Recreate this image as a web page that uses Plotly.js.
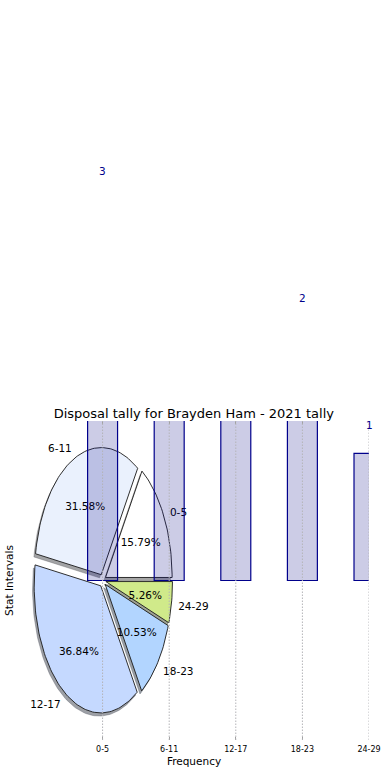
<!DOCTYPE html>
<html><head><meta charset="utf-8">
<script src="https://cdn.plot.ly/plotly-3.0.1.min.js"></script>
<style>html,body{margin:0;padding:0;background:#fff}</style>
</head><body><div id="chart" style="width:390px;height:780px"></div>
<script>
const categories = ['0-5', '6-11', '12-17', '18-23', '24-29'];
const tallies = [3, 6, 7, 2, 1];
const sliceColors = ['#ffffff', '#eaf1fd', '#c5d9ff', '#b2d5ff', '#d0ea8a'];
const explode = [0.05, 0.05, 0.05, 0.05, 0.05];
const chartTitle = 'Disposal tally for Brayden Ham - 2021 tally';
const xTitle = 'Frequency';
const yTitle = 'Stat Intervals';

const FONT = 'DejaVu Sans, Liberation Sans, sans-serif';
const TEXT_DY = -0.02; // small baseline nudge for text centring
const total = tallies.reduce((a, b) => a + b, 0);
const idx = categories.map((c, i) => i);

function shade(hex) {
  const r = parseInt(hex.slice(1, 3), 16), g = parseInt(hex.slice(3, 5), 16), b = parseInt(hex.slice(5, 7), 16);
  return 'rgba(' + Math.round(r * 0.3) + ',' + Math.round(g * 0.3) + ',' + Math.round(b * 0.3) + ',0.5)';
}

const shadowTraces = [], wedgeTraces = [];
const lblX = [], lblY = [], lblPos = [], pctX = [], pctY = [], pctText = [];
let acc = 0;
tallies.forEach((v, i) => {
  const frac = v / total;
  const a0 = acc * 2 * Math.PI, a1 = (acc + frac) * 2 * Math.PI;
  acc += frac;
  const mid = (a0 + a1) / 2;
  const cx = explode[i] * Math.cos(mid), cy = explode[i] * Math.sin(mid);
  const xs = [cx], ys = [cy];
  const n = Math.max(4, Math.ceil((a1 - a0) / (Math.PI / 120)));
  for (let k = 0; k <= n; k++) {
    const a = a0 + (a1 - a0) * k / n;
    xs.push(cx + Math.cos(a)); ys.push(cy + Math.sin(a));
  }
  xs.push(cx); ys.push(cy);
  shadowTraces.push({
    type: 'scatter', mode: 'lines', x: xs.map(x => x - 0.025), y: ys.map(y => y - 0.025),
    fill: 'toself', fillcolor: shade(sliceColors[i]),
    line: {width: 0.6, color: shade(sliceColors[i])}, hoverinfo: 'skip', showlegend: false
  });
  wedgeTraces.push({
    type: 'scatter', mode: 'lines', x: xs, y: ys, fill: 'toself', fillcolor: sliceColors[i],
    line: {width: 0.9, color: '#1a1a1a'}, hoverinfo: 'skip', showlegend: false
  });
  const lx = cx + 1.1 * Math.cos(mid), ly = cy + 1.1 * Math.sin(mid);
  lblX.push(lx); lblY.push(ly + TEXT_DY); lblPos.push(lx > 0 ? 'middle right' : 'middle left');
  pctX.push(cx + 0.6 * Math.cos(mid)); pctY.push(cy + 0.6 * Math.sin(mid) + TEXT_DY);
  pctText.push((frac * 100).toFixed(2) + '%');
});

const labelTrace = {
  type: 'scatter', mode: 'text', x: lblX, y: lblY, text: categories, textposition: lblPos,
  textfont: {family: FONT, size: 10.5, color: '#000'}, cliponaxis: false, hoverinfo: 'skip', showlegend: false
};
const pctTrace = {
  type: 'scatter', mode: 'text', x: pctX, y: pctY, text: pctText, textposition: 'middle center',
  textfont: {family: FONT, size: 10.5, color: '#000'}, cliponaxis: false, hoverinfo: 'skip', showlegend: false
};

const barTrace = {
  type: 'bar', x: idx, y: tallies, width: 0.45, xaxis: 'x2', yaxis: 'y2',
  marker: {color: 'rgba(0,0,128,0.2)', line: {color: '#00008b', width: 1.2}},
  hoverinfo: 'skip', showlegend: false
};

// bar value labels: anchored on the baseline, text placed at (value + offset) via the y axis
const barLabels = idx.map(i => ({
  xref: 'x2', yref: 'y2', x: i, y: 0, axref: 'pixel', ax: 0, ayref: 'y2', ay: tallies[i] + 0.22,
  text: String(tallies[i]), showarrow: true, arrowcolor: 'rgba(0,0,0,0)', arrowwidth: 0.1, arrowhead: 0,
  standoff: 0, startstandoff: 0, xanchor: 'center', yanchor: 'middle',
  font: {family: FONT, size: 10.5, color: '#00008b'}
}));

const XR = [-1.255, 4], YR = [-1.255, 1.255];
const gridShapes = idx.map(i => ({
  type: 'line', xref: 'x', yref: 'paper', x0: i, x1: i, y0: 0, y1: 1, layer: 'above',
  line: {color: '#b4b4b8', width: 1, dash: '1.5px,1.5px'}
}));

const layout = {
  width: 390, height: 780,
  margin: {l: 19, r: 20.5, t: 420.5, b: 40},
  paper_bgcolor: '#fff', plot_bgcolor: 'rgba(0,0,0,0)',
  font: {family: FONT, color: '#000'},
  title: {text: chartTitle, font: {family: FONT, size: 13, color: '#000'},
          xref: 'container', x: 0.497, xanchor: 'center', yref: 'container', y: 1 - 413 / 780, yanchor: 'middle'},
  xaxis: {range: XR, tickvals: idx, ticktext: categories, showgrid: false, zeroline: false, showline: false,
          ticks: 'inside', ticklen: 3, tickcolor: '#a0a0a0', mirror: 'ticks', ticklabelstandoff: 3,
          tickfont: {family: FONT, size: 8, color: '#000'},
          title: {text: xTitle, font: {family: FONT, size: 10.5, color: '#000'}, standoff: 4}, automargin: false},
  yaxis: {range: YR, showticklabels: false, showgrid: false, zeroline: false, showline: false, ticks: '',
          title: {text: yTitle, font: {family: FONT, size: 10.6, color: '#000'}, standoff: 2}, automargin: false},
  xaxis2: {range: XR, overlaying: 'x', visible: false, showgrid: false, zeroline: false},
  yaxis2: {range: YR, overlaying: 'y', visible: false, showgrid: false, zeroline: false},
  shapes: gridShapes,
  annotations: barLabels,
  showlegend: false
};

Plotly.newPlot('chart', [...shadowTraces, ...wedgeTraces, labelTrace, pctTrace, barTrace], layout,
  {displayModeBar: false, staticPlot: true}).then(gd => {
  // labels whose position falls above the figure are not part of the visible picture
  const fl = gd._fullLayout, ya = fl.yaxis2;
  const upd = {};
  barLabels.forEach((a, i) => {
    const py = fl._size.t + ya.c2p(a.ay);
    if (py < 0) upd['annotations[' + i + '].visible'] = false;
  });
  if (Object.keys(upd).length) return Plotly.relayout(gd, upd);
});
</script></body></html>
